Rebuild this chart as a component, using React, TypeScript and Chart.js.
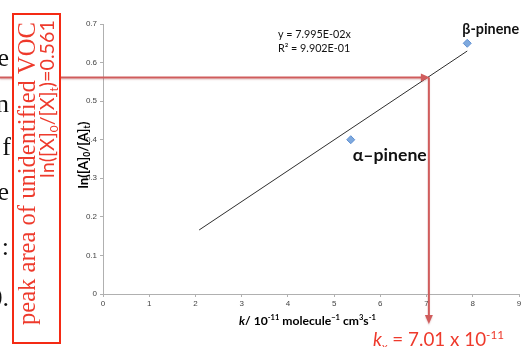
import React, { useEffect, useRef } from "react";
import { Chart, registerables } from "chart.js";

Chart.register(...registerables);

// ---- data ----
const compoundNames = ["α–pinene", "β-pinene"];
const rateConstants = [5.36, 7.88]; // k / 1e-11 molecule^-1 cm^3 s^-1
const lnRatios = [0.4, 0.65]; // ln([A]0/[A]t)
const trendX = [2.08, 7.88];
const trendY = [0.166, 0.63];
const xTickMin = 0;
const xTickMax = 9;
const xTickStep = 1;
const yTickMin = 0;
const yTickMax = 0.7;
const yTickStep = 0.1;
const unknownLnRatio = 0.561;
const unknownK = 7.05; // where the arrow meets the trend line in the picture
const equationLines = ["y = 7.995E-02x", "R² = 9.902E-01"];
const backgroundLetters = ["e", "n", "f", "e", ":", "0."];

type Seg = { t: string; rel?: number; weight?: string; style?: string; dy?: number };

const SANS = "Lato, 'Liberation Sans', sans-serif";
const SERIF = "'Liberation Serif', 'DejaVu Serif', serif";

function setFont(ctx: CanvasRenderingContext2D, s: Seg, size: number, family: string) {
  ctx.font = `${s.style || "normal"} ${s.weight || "normal"} ${size * (s.rel || 1)}px ${family}`;
}

function richWidth(ctx: CanvasRenderingContext2D, segs: Seg[], size: number, family: string) {
  let w = 0;
  for (const s of segs) {
    setFont(ctx, s, size, family);
    w += ctx.measureText(s.t).width;
  }
  return w;
}

function fitSize(ctx: CanvasRenderingContext2D, segs: Seg[], target: number, family: string) {
  const w = richWidth(ctx, segs, 20, family);
  return (20 * target) / w;
}

function drawRich(
  ctx: CanvasRenderingContext2D,
  segs: Seg[],
  x: number,
  y: number,
  size: number,
  family: string,
  color: string
) {
  let cx = x;
  ctx.fillStyle = color;
  ctx.textBaseline = "alphabetic";
  ctx.textAlign = "left";
  for (const s of segs) {
    setFont(ctx, s, size, family);
    ctx.fillText(s.t, cx, y + (s.dy || 0) * size);
    cx += ctx.measureText(s.t).width;
  }
}

const annotationPlugin = {
  id: "annotations",
  afterDraw(chart: any) {
    const ctx: CanvasRenderingContext2D = chart.ctx;
    const xs = chart.scales.x;
    const ys = chart.scales.y;
    const area = chart.chartArea;
    ctx.save();

    // equation text
    const eqSize = fitSize(ctx, [{ t: equationLines[0] }], 73, SANS);
    drawRich(ctx, [{ t: equationLines[0] }], 278, 38, eqSize, SANS, "#111");
    drawRich(ctx, [{ t: equationLines[1] }], 278, 52, eqSize, SANS, "#111");

    // point labels
    const offsets = [
      { dx: 2, dy: 21, w: 74 },
      { dx: -5, dy: -9, w: 57 },
    ];
    compoundNames.forEach((name, i) => {
      const px = xs.getPixelForValue(rateConstants[i]);
      const py = ys.getPixelForValue(lnRatios[i]);
      const seg = [{ t: name, weight: "bold" }];
      const sz = fitSize(ctx, seg, offsets[i].w, SANS);
      drawRich(ctx, seg, px + offsets[i].dx, py + offsets[i].dy, sz, SANS, "#111");
    });

    // x axis title
    const xTitle: Seg[] = [
      { t: "k", weight: "bold", style: "italic" },
      { t: "/ 10", weight: "bold" },
      { t: "-11", weight: "bold", rel: 0.62, dy: -0.38 },
      { t: " molecule", weight: "bold" },
      { t: "−1", weight: "bold", rel: 0.62, dy: -0.38 },
      { t: " cm", weight: "bold" },
      { t: "3", weight: "bold", rel: 0.62, dy: -0.38 },
      { t: "s", weight: "bold" },
      { t: "-1", weight: "bold", rel: 0.62, dy: -0.38 },
    ];
    const xtSize = fitSize(ctx, xTitle, 137, SANS);
    drawRich(ctx, xTitle, 239, 325, xtSize, SANS, "#000");

    // y axis title (rotated)
    const yTitle: Seg[] = [
      { t: "ln([A]", weight: "bold" },
      { t: "0", weight: "bold", rel: 0.65, dy: 0.2 },
      { t: "/[A]", weight: "bold" },
      { t: "t", weight: "bold", rel: 0.65, dy: 0.2 },
      { t: ")", weight: "bold" },
    ];
    const ytSize = fitSize(ctx, yTitle, 67, SANS);
    ctx.save();
    ctx.translate(87.5, 155 + 33.5);
    ctx.rotate(-Math.PI / 2);
    drawRich(ctx, yTitle, 0, 0, ytSize, SANS, "#000");
    ctx.restore();

    // red arrows
    const ax = xs.getPixelForValue(unknownK);
    const ay = ys.getPixelForValue(unknownLnRatio);
    const red = "#d05c5c";
    ctx.save();
    ctx.strokeStyle = red;
    ctx.fillStyle = red;
    ctx.lineWidth = 2;
    ctx.shadowColor = "rgba(150,60,60,0.22)";
    ctx.shadowOffsetY = 1.5;
    ctx.shadowBlur = 1.5;
    ctx.beginPath();
    ctx.moveTo(0, ay);
    ctx.lineTo(ax - 6, ay);
    ctx.stroke();
    ctx.beginPath();
    ctx.moveTo(ax + 1, ay);
    ctx.lineTo(ax - 8, ay - 4);
    ctx.lineTo(ax - 8, ay + 4);
    ctx.closePath();
    ctx.fill();
    const bottomY = area.bottom + 29;
    ctx.beginPath();
    ctx.moveTo(ax, ay);
    ctx.lineTo(ax, bottomY - 6);
    ctx.stroke();
    ctx.beginPath();
    ctx.moveTo(ax, bottomY + 1);
    ctx.lineTo(ax - 4, bottomY - 8);
    ctx.lineTo(ax + 4, bottomY - 8);
    ctx.closePath();
    ctx.fill();
    ctx.restore();

    // k_x result text
    const kText: Seg[] = [
      { t: "k", style: "italic" },
      { t: "x", rel: 0.6, dy: 0.25 },
      { t: " = 7.01 x 10" },
      { t: "-11", rel: 0.62, dy: -0.38 },
    ];
    const kSize = fitSize(ctx, kText, 131, SANS);
    drawRich(ctx, kText, 373, 346, kSize, SANS, "#ee3a2c");

    // background slide letters (cut off at the left edge)
    const letterY = [66, 112, 155, 200, 255, 306];
    ctx.fillStyle = "#111";
    ctx.font = `26px ${SERIF}`;
    ctx.textAlign = "right";
    ctx.textBaseline = "alphabetic";
    backgroundLetters.forEach((l, i) => {
      ctx.fillText(l, l === "f" ? 11 : 9, letterY[i]);
    });

    // red box
    ctx.fillStyle = "#ffffff";
    ctx.fillRect(12, 13, 49, 331);
    ctx.strokeStyle = "#f42a14";
    ctx.lineWidth = 2;
    ctx.strokeRect(13, 14, 47, 329);

    // rotated red texts inside the box
    const peak: Seg[] = [{ t: "peak area of unidentified VOC" }];
    const peakSize = fitSize(ctx, peak, 303, SERIF);
    ctx.save();
    ctx.translate(35, 325);
    ctx.rotate(-Math.PI / 2);
    drawRich(ctx, peak, 0, 0, peakSize, SERIF, "#ee3a2c");
    ctx.restore();

    const lnText: Seg[] = [
      { t: "ln([X]" },
      { t: "0", rel: 0.6, dy: 0.22 },
      { t: "/[X]" },
      { t: "t", rel: 0.6, dy: 0.22 },
      { t: ")=0.561" },
    ];
    const lnSize = fitSize(ctx, lnText, 158, SANS);
    ctx.save();
    ctx.translate(54, 178);
    ctx.rotate(-Math.PI / 2);
    drawRich(ctx, lnText, 0, 0, lnSize, SANS, "#ee3a2c");
    ctx.restore();

    ctx.restore();
  },
};

export default function App() {
  const canvasRef = useRef<HTMLCanvasElement | null>(null);

  useEffect(() => {
    if (!canvasRef.current) return;
    const chart = new Chart(canvasRef.current, {
      type: "scatter",
      data: {
        datasets: [
          {
            label: "compounds",
            data: rateConstants.map((x, i) => ({ x, y: lnRatios[i] })),
            pointStyle: "rectRot",
            pointRadius: 4,
            backgroundColor: "#7ea9de",
            borderColor: "#5f90d2",
            borderWidth: 1,
          },
          {
            label: "trend",
            type: "line",
            data: trendX.map((x, i) => ({ x, y: trendY[i] })),
            borderColor: "#2e2e2e",
            borderWidth: 1,
            pointRadius: 0,
            fill: false,
          } as any,
        ],
      },
      options: {
        responsive: false,
        animation: false,
        layout: { padding: { left: 0, right: 41, top: 24, bottom: 33 } },
        plugins: { legend: { display: false }, tooltip: { enabled: false } },
        scales: {
          x: {
            type: "linear",
            min: xTickMin,
            max: xTickMax,
            ticks: {
              stepSize: xTickStep,
              font: { size: 8, family: "'Liberation Sans', sans-serif" },
              color: "#444",
              padding: 2,
            },
            grid: { drawOnChartArea: false, drawTicks: true, tickLength: 3, color: "#b0b0b0" },
            border: { color: "#b0b0b0" },
            afterFit: (s: any) => {
              s.height = 20;
            },
          },
          y: {
            type: "linear",
            min: yTickMin,
            max: yTickMax,
            ticks: {
              stepSize: yTickStep,
              font: { size: 8, family: "'Liberation Sans', sans-serif" },
              color: "#444",
              padding: 3,
            },
            grid: { drawOnChartArea: false, drawTicks: true, tickLength: 3, color: "#b0b0b0" },
            border: { color: "#b0b0b0" },
            afterFit: (s: any) => {
              s.width = 103;
            },
          },
        },
      },
      plugins: [annotationPlugin],
    });
    return () => chart.destroy();
  }, []);

  return (
    <div
      style={{
        position: "fixed",
        left: 0,
        top: 0,
        width: 521,
        height: 347,
        overflow: "hidden",
        background: "#fff",
      }}
    >
      <canvas ref={canvasRef} width={560} height={347} style={{ display: "block", width: 560, height: 347 }} />
    </div>
  );
}
